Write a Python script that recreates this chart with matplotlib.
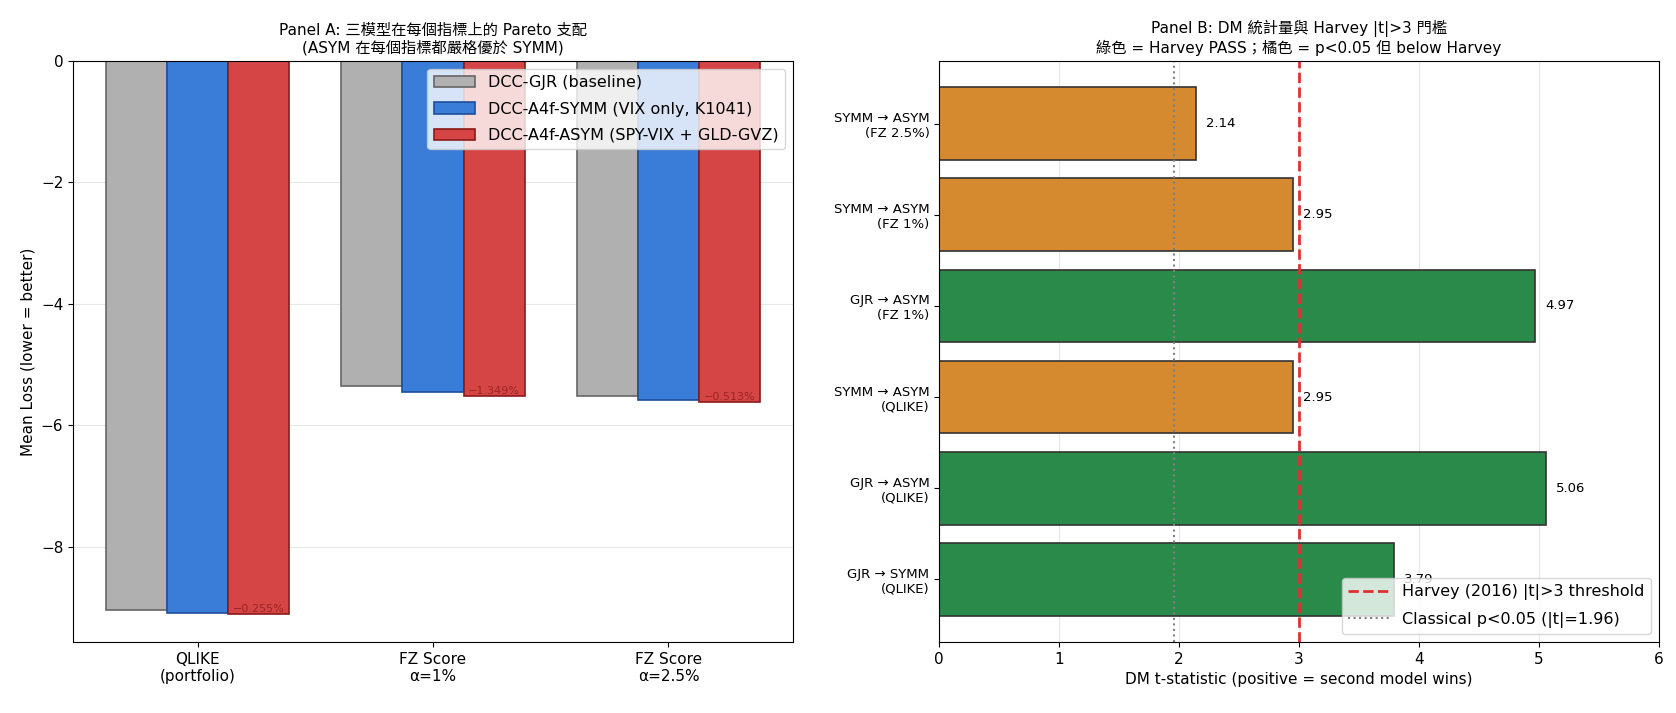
import numpy as np
import matplotlib
matplotlib.use("Agg")
import matplotlib.pyplot as plt

plt.rcParams['font.family'] = ['DejaVu Sans', 'Noto Sans CJK TC']
plt.rcParams['axes.unicode_minus'] = True

# Panel A data: mean loss per metric for the three models
metrics = ['QLIKE\n(portfolio)', 'FZ Score\nα=1%', 'FZ Score\nα=2.5%']
loss_gjr = [-9.04, -5.36, -5.52]
loss_symm = [-9.09, -5.45, -5.58]
loss_asym = [-9.113, -5.524, -5.609]
pct_labels = ['−0.255%', '−1.349%', '−0.513%']
model_names = ['DCC-GJR (baseline)', 'DCC-A4f-SYMM (VIX only, K1041)',
               'DCC-A4f-ASYM (SPY-VIX + GLD-GVZ)']

# Panel B data: DM t-statistics
comparisons = ['GJR → SYMM\n(QLIKE)', 'GJR → ASYM\n(QLIKE)', 'SYMM → ASYM\n(QLIKE)',
               'GJR → ASYM\n(FZ 1%)', 'SYMM → ASYM\n(FZ 1%)', 'SYMM → ASYM\n(FZ 2.5%)']
dm_stats = [3.79, 5.06, 2.95, 4.97, 2.95, 2.14]
harvey = 3.0
classical = 1.96

fig, (ax1, ax2) = plt.subplots(1, 2, figsize=(16.76, 7.13), dpi=100)
fig.subplots_adjust(left=0.0436, right=0.9899, top=0.9145, bottom=0.0996, wspace=0.203)

# ---- Panel A ----
x = np.arange(len(metrics))
w = 0.26
ax1.bar(x - w, loss_gjr, w, color='#b0b0b0', edgecolor='#666666', linewidth=1.2, label=model_names[0])
ax1.bar(x, loss_symm, w, color='#3a7dd8', edgecolor='#1f4e99', linewidth=1.2, label=model_names[1])
ax1.bar(x + w, loss_asym, w, color='#d64545', edgecolor='#8b1a1a', linewidth=1.2, label=model_names[2])
for i, lab in enumerate(pct_labels):
    ax1.text(x[i] + w, loss_asym[i], lab, ha='center', va='bottom', fontsize=8,
             color='#8b1a1a', alpha=0.75)
ax1.set_xticks(x)
ax1.set_xticklabels(metrics, fontsize=11)
ax1.set_ylabel('Mean Loss (lower = better)', fontsize=11)
ax1.set_ylim(min(loss_asym) * 1.05, 0)
ax1.tick_params(axis='y', labelsize=11)
ax1.grid(axis='y', alpha=0.3)
ax1.set_axisbelow(True)
ax1.set_title('Panel A: 三模型在每個指標上的 Pareto 支配\n(ASYM 在每個指標都嚴格優於 SYMM)', fontsize=11)
ax1.legend(loc='upper right', fontsize=11.5, framealpha=0.8,
           handlelength=2.6, labelspacing=0.7)

# ---- Panel B ----
y = np.arange(len(comparisons))
colors = ['#2a8a4a' if v > harvey else '#d58a2f' for v in dm_stats]
ax2.barh(y, dm_stats, height=0.8, color=colors, edgecolor='#333333', linewidth=1.2)
for i, v in enumerate(dm_stats):
    ax2.text(v + 0.08, y[i], f'{v:.2f}', va='center', ha='left', fontsize=9.5)
ax2.axvline(harvey, color='#e03030', linestyle='--', linewidth=2,
            label='Harvey (2016) |t|>3 threshold')
ax2.axvline(classical, color='gray', linestyle=':', linewidth=1.5,
            label='Classical p<0.05 (|t|=1.96)')
ax2.set_yticks(y)
ax2.set_yticklabels(comparisons, fontsize=9.5)
ax2.set_xlim(0, 6)
ax2.tick_params(axis='x', labelsize=11)
ax2.set_xlabel('DM t-statistic (positive = second model wins)', fontsize=11)
ax2.grid(axis='x', alpha=0.3)
ax2.set_axisbelow(True)
ax2.set_title('Panel B: DM 統計量與 Harvey |t|>3 門檻\n綠色 = Harvey PASS；橘色 = p<0.05 但 below Harvey', fontsize=11)
ax2.legend(loc='lower right', fontsize=11.5, framealpha=0.8,
           handlelength=2.6, labelspacing=0.7)

fig.savefig('out.png', dpi=100)
